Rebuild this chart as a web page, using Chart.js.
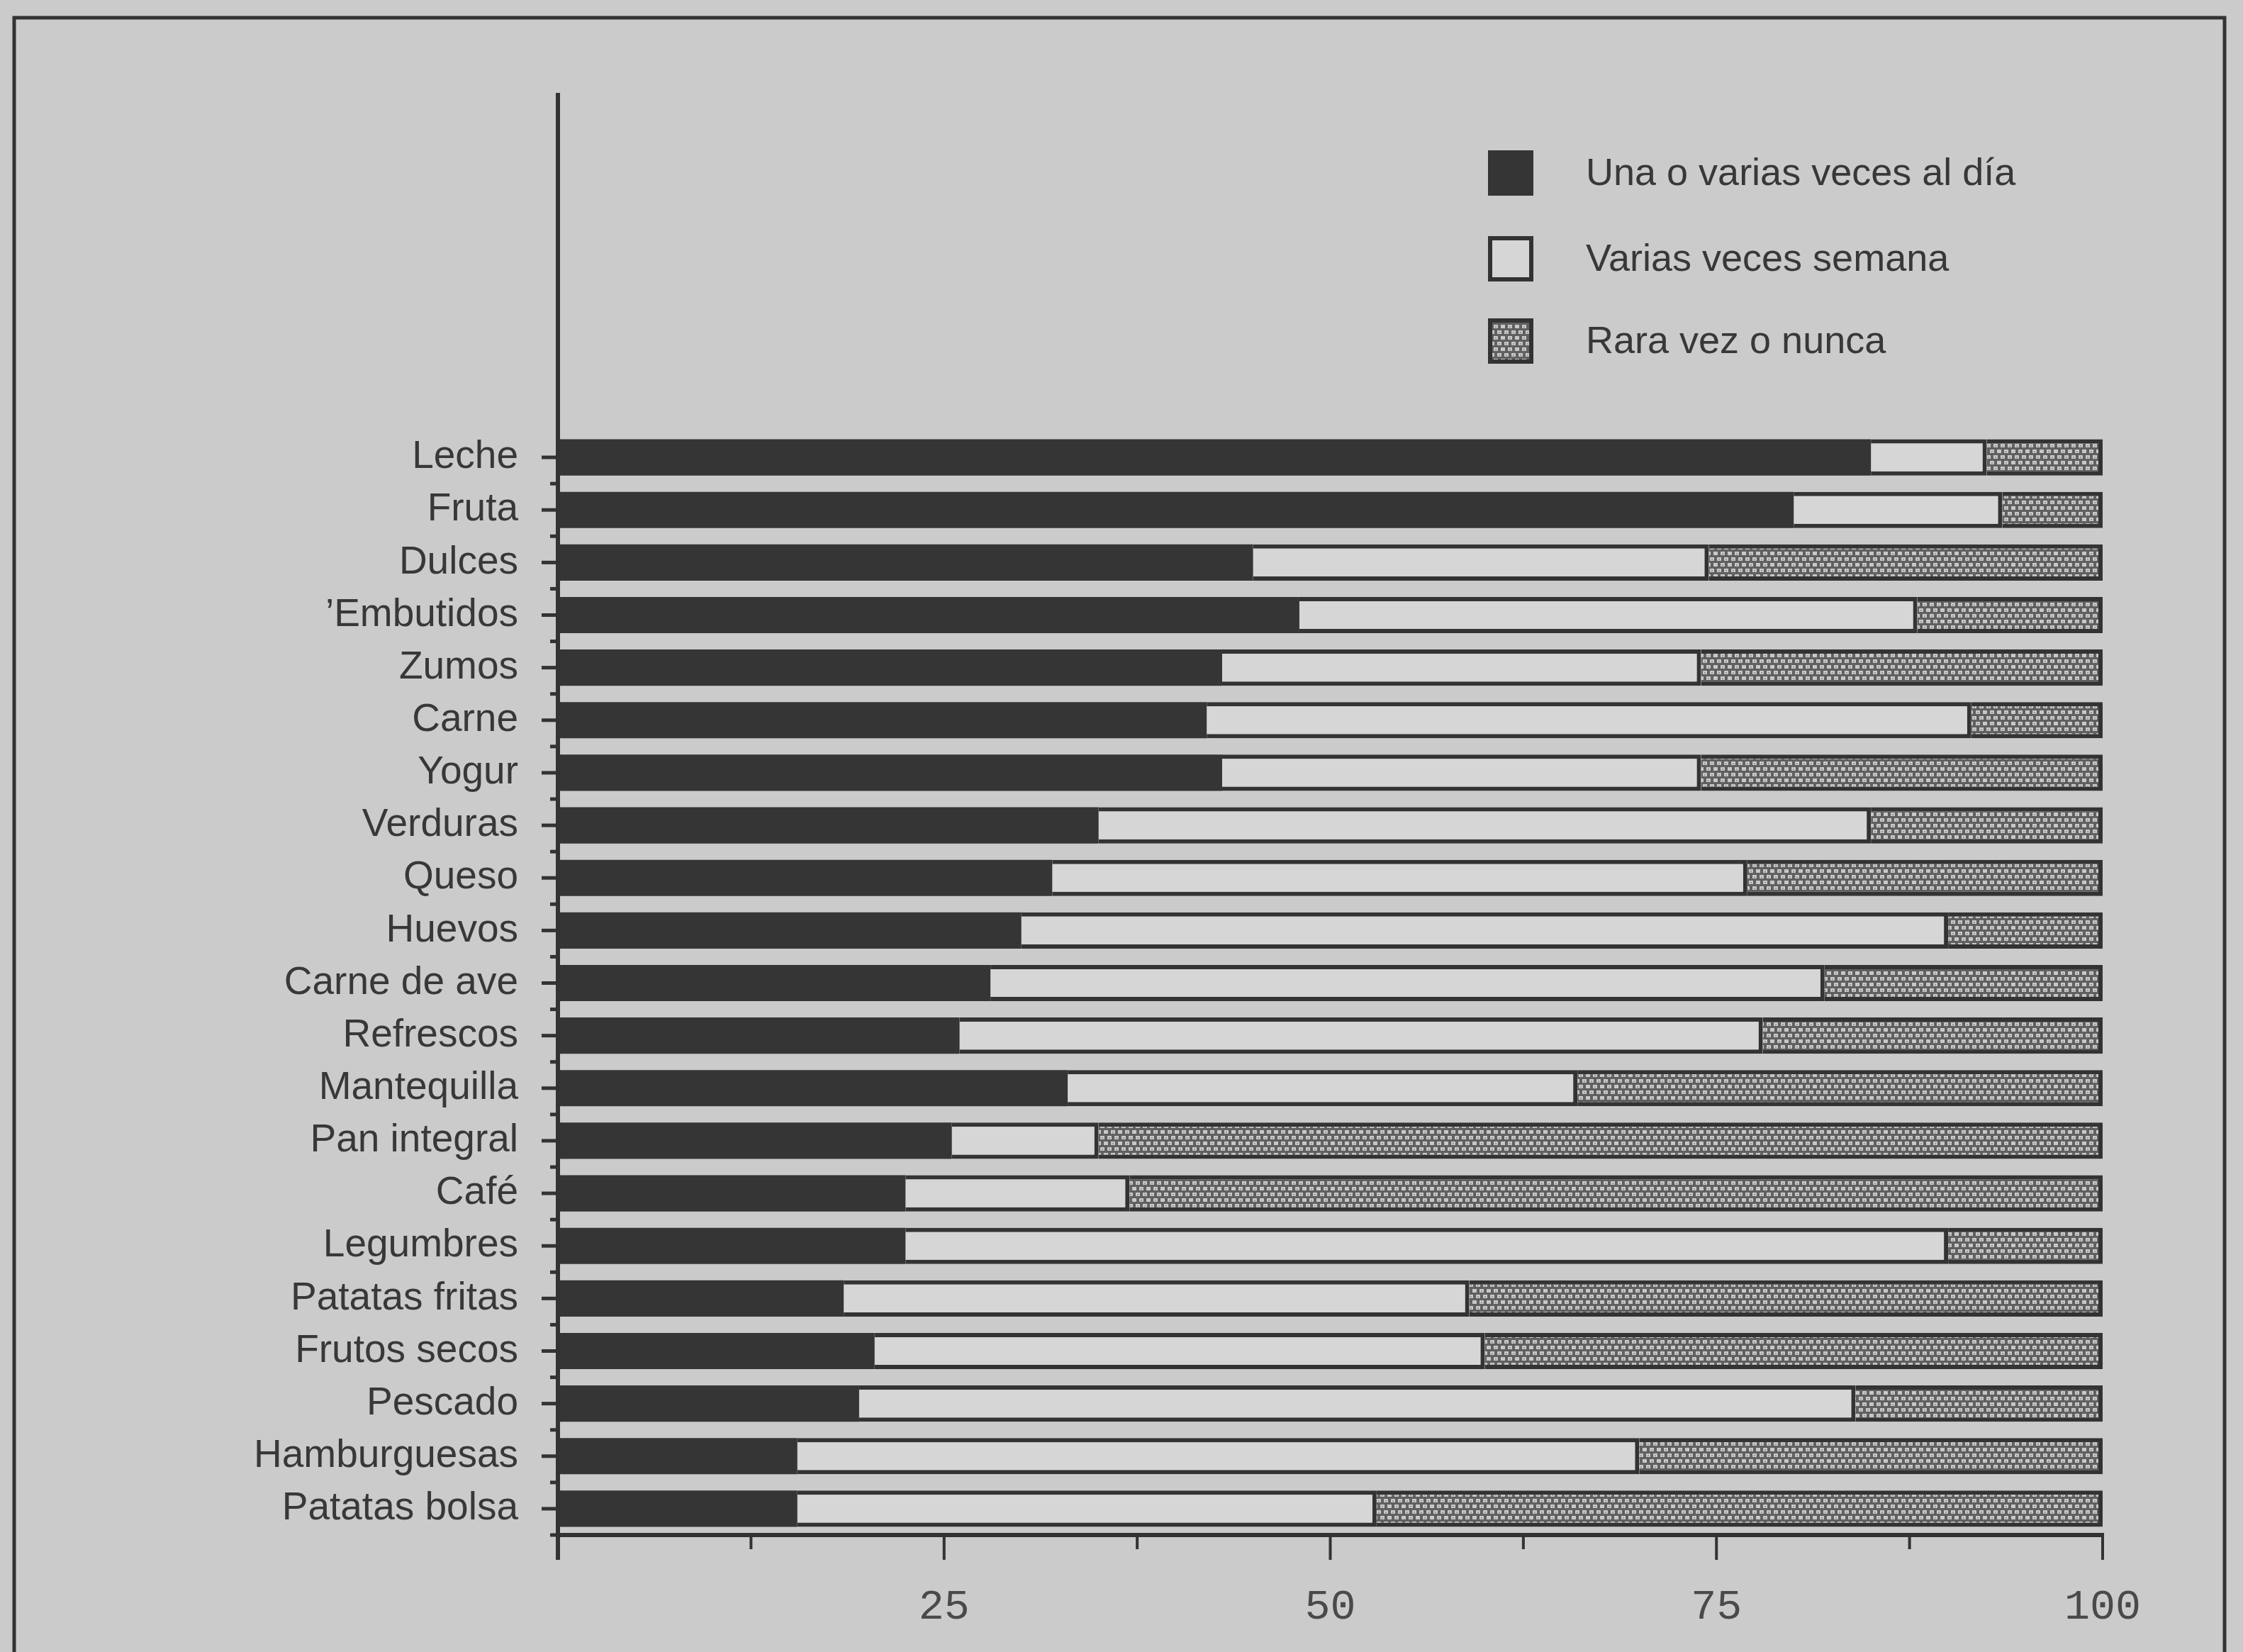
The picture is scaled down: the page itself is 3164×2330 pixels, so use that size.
<!DOCTYPE html>
<html>
<head>
<meta charset="utf-8">
<script src="https://cdn.jsdelivr.net/npm/chart.js@4"></script>
<style>
  html, body { margin: 0; padding: 0; background: #cbcbcb; }
  #wrap { width: 3164px; height: 2330px; position: relative; }
</style>
</head>
<body>
<div id="wrap"><canvas id="grafico"></canvas></div>
<script>
// datos (porcentaje de consumo)
var categorias = ['Leche', 'Fruta', 'Dulces', '\u2019Embutidos', 'Zumos', 'Carne', 'Yogur', 'Verduras',
    'Queso', 'Huevos', 'Carne de ave', 'Refrescos', 'Mantequilla', 'Pan integral', 'Caf\u00e9',
    'Legumbres', 'Patatas fritas', 'Frutos secos', 'Pescado', 'Hamburguesas', 'Patatas bolsa'];
var alDia = [85, 80, 45, 48, 43, 42, 43, 35, 32, 30, 28, 26, 33, 25.5, 22.5, 22.5, 18.5, 20.5, 19.5, 15.5, 15.5];
var semana = [7.5, 13.5, 29.5, 40, 31, 49.5, 31, 50, 45, 60, 54, 52, 33, 9.5, 14.5, 67.5, 40.5, 39.5, 64.5, 54.5, 37.5];
var nunca = [7.5, 6.5, 25.5, 12, 26, 8.5, 26, 15, 23, 10, 18, 22, 34, 65, 63, 10, 41, 40, 16, 30, 47];
var series = ['Una o varias veces al d\u00eda', 'Varias veces semana', 'Rara vez o nunca'];
var marcasX = [25, 50, 75, 100];

var papel = '#cbcbcb';
var tinta = '#333333';
var fuente = '"Liberation Sans", Arial, sans-serif';

var ctx = document.getElementById('grafico').getContext('2d');

function trama() {
    var t = document.createElement('canvas');
    t.width = 20; t.height = 16;
    var g = t.getContext('2d');
    g.fillStyle = '#606060';
    g.fillRect(0, 0, 20, 16);
    g.fillStyle = '#c8c8c8';
    g.fillRect(2, 2, 6, 5);
    g.fillRect(12, 2, 6, 5);
    g.fillRect(7, 10, 6, 5);
    g.fillRect(17, 10, 3, 5);
    g.fillRect(0, 10, 3, 5);
    g.fillStyle = '#9a9a9a';
    g.fillRect(4, 4, 2, 2);
    g.fillRect(14, 4, 2, 2);
    g.fillRect(9, 12, 2, 2);
    return ctx.createPattern(t, 'repeat');
}
var punteado = trama();

function linea(c, x1, y1, x2, y2) {
    c.beginPath();
    c.moveTo(x1, y1);
    c.lineTo(x2, y2);
    c.stroke();
}

var decorado = {
    id: 'decorado',
    beforeDraw: function (chart) {
        var c = chart.ctx;
        c.save();
        c.fillStyle = papel;
        c.fillRect(0, 0, chart.width, chart.height);
        c.restore();
    },
    afterDraw: function (chart) {
        var c = chart.ctx;
        var a = chart.chartArea;
        var x = chart.scales.x;
        var y = chart.scales.y;
        c.save();
        c.strokeStyle = tinta;
        c.fillStyle = tinta;
        c.lineCap = 'butt';

        // ejes
        c.lineWidth = 6;
        linea(c, a.left, 131, a.left, a.bottom + 35);
        linea(c, a.left - 3, a.bottom, a.right + 2, a.bottom);

        // marcas eje vertical
        var paso = y.getPixelForValue(1) - y.getPixelForValue(0);
        c.lineWidth = 5;
        categorias.forEach(function (cat, i) {
            var py = y.getPixelForValue(i);
            linea(c, a.left - 23, py, a.left, py);
            linea(c, a.left - 11, py + paso / 2, a.left, py + paso / 2);
        });

        // marcas eje horizontal
        c.lineWidth = 4;
        x.ticks.forEach(function (t) {
            var px = x.getPixelForValue(t.value);
            var largo = (t.value % 25 === 0) ? 35 : 20;
            linea(c, px, a.bottom, px, a.bottom + largo);
        });

        // leyenda
        var ly = [244, 365, 481];
        chart.data.datasets.forEach(function (ds, i) {
            var cy = ly[i];
            c.fillStyle = ds.backgroundColor;
            c.fillRect(2099, cy - 32, 64, 64);
            if (i > 0) {
                c.lineWidth = 6;
                c.strokeStyle = tinta;
                c.strokeRect(2102, cy - 29, 58, 58);
            }
            c.fillStyle = '#383838';
            c.font = '54px ' + fuente;
            c.textBaseline = 'middle';
            c.textAlign = 'left';
            c.fillText(ds.label, 2237, cy + 2);
        });

        // marco
        c.lineWidth = 5;
        c.strokeStyle = tinta;
        c.strokeRect(20, 25, 3118, 2400);
        c.restore();
    }
};

var miGrafico = new Chart(ctx, {
    type: 'bar',
    data: {
        labels: categorias,
        datasets: [{
            label: series[0],
            data: alDia,
            backgroundColor: '#353535',
            borderColor: tinta,
            borderWidth: 0
        },
        {
            label: series[1],
            data: semana,
            backgroundColor: '#d6d6d6',
            borderColor: tinta,
            borderWidth: { top: 6, bottom: 6, left: 0, right: 6 },
            borderSkipped: false
        },
        {
            label: series[2],
            data: nunca,
            backgroundColor: punteado,
            borderColor: tinta,
            borderWidth: { top: 6, bottom: 6, left: 0, right: 6 },
            borderSkipped: false
        }]
    },
    options: {
        indexAxis: 'y',
        responsive: true,
        maintainAspectRatio: false,
        devicePixelRatio: 1,
        animation: false,
        layout: { padding: { top: 608, right: 198, bottom: 0, left: 0 } },
        datasets: { bar: { barPercentage: 0.69, categoryPercentage: 1 } },
        plugins: { legend: { display: false }, tooltip: { enabled: false } },
        scales: {
            x: {
                stacked: true,
                min: 0,
                max: 100,
                grid: { display: false, drawTicks: false },
                border: { display: false },
                ticks: {
                    stepSize: 12.5,
                    autoSkip: false,
                    maxRotation: 0,
                    padding: 66,
                    color: '#4a4a4a',
                    font: { family: '"Liberation Mono", "DejaVu Sans Mono", monospace', size: 60 },
                    callback: function (v) { return marcasX.indexOf(v) >= 0 ? String(v) : ''; }
                },
                afterFit: function (s) { s.height = 165; }
            },
            y: {
                stacked: true,
                grid: { display: false, drawTicks: false },
                border: { display: false },
                ticks: {
                    autoSkip: false,
                    padding: 56,
                    color: '#383838',
                    font: { family: fuente, size: 55 }
                },
                afterFit: function (s) { s.width = 787; }
            }
        }
    },
    plugins: [decorado]
});
</script>
</body>
</html>
